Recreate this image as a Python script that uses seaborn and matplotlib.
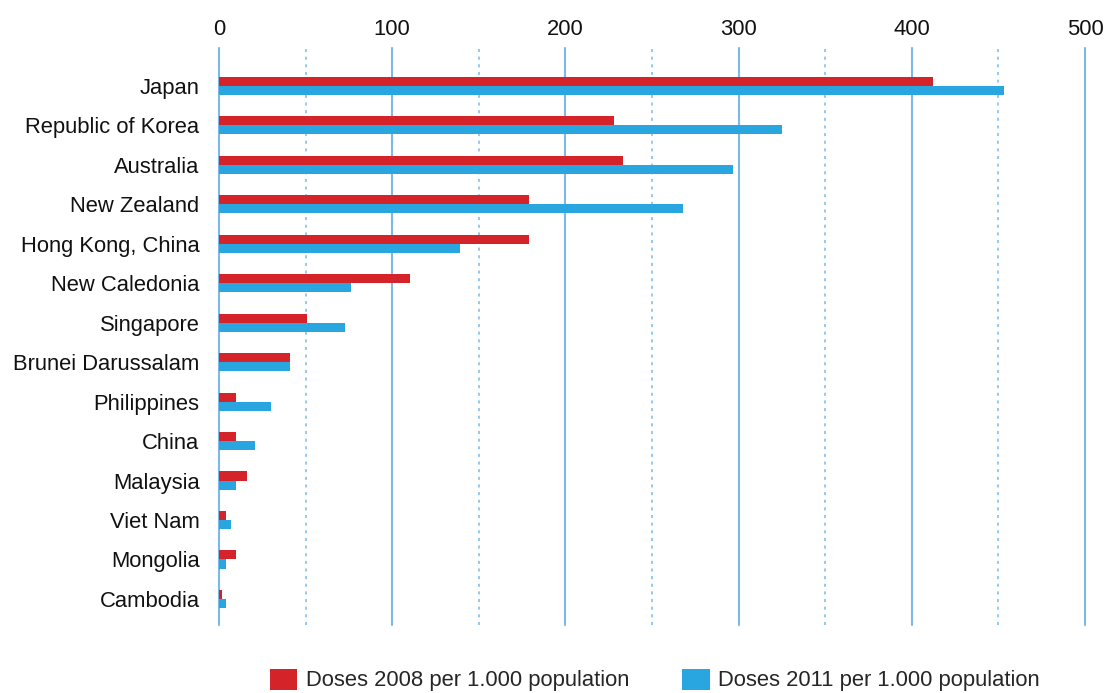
import matplotlib
matplotlib.use("Agg")
import matplotlib.pyplot as plt
from matplotlib.ticker import MultipleLocator
import seaborn as sns
import pandas as pd

countries = [
    "Japan", "Republic of Korea", "Australia", "New Zealand", "Hong Kong, China",
    "New Caledonia", "Singapore", "Brunei Darussalam", "Philippines", "China",
    "Malaysia", "Viet Nam", "Mongolia", "Cambodia",
]
doses_2008 = [412, 228, 233, 179, 179, 110, 51, 41, 10, 10, 16, 4, 10, 2]
doses_2011 = [453, 325, 297, 268, 139, 76, 73, 41, 30, 21, 10, 7, 4, 4]
series_names = ["Doses 2008 per 1.000 population", "Doses 2011 per 1.000 population"]
x_ticks = [0, 100, 200, 300, 400, 500]

df = pd.DataFrame({
    "country": countries * 2,
    "value": doses_2008 + doses_2011,
    "series": [series_names[0]] * len(countries) + [series_names[1]] * len(countries),
})

sns.set_theme(style="white")
plt.rcParams["font.family"] = ["Liberation Sans", "DejaVu Sans"]

RED = "#d4242a"
BLUE = "#29a6df"
GRID = "#7ab9e8"
FS = 15.8

fig = plt.figure(figsize=(11.05, 6.93), dpi=100)
ax = fig.add_axes([219 / 1105, 1 - 625 / 693, (1085 - 219) / 1105, (625 - 48) / 693])

sns.barplot(
    data=df, y="country", x="value", hue="series", order=countries,
    hue_order=series_names, palette=[RED, BLUE], orient="h",
    width=0.46, dodge=True, saturation=1, ax=ax, legend=True,
    linewidth=0, edgecolor="none",
)

ax.set_xlim(0, 500)
ax.set_ylim(13.66, -0.96)
ax.set_xticks(x_ticks)
ax.set_xticklabels([str(t) for t in x_ticks])
ax.xaxis.set_minor_locator(MultipleLocator(50))
ax.xaxis.tick_top()
ax.tick_params(axis="x", which="both", length=0, pad=6, labelsize=FS, colors="#111111")
ax.tick_params(axis="y", length=0, pad=14, labelsize=FS, colors="#111111")
ax.set_xlabel("")
ax.set_ylabel("")
for s in ax.spines.values():
    s.set_visible(False)

ax.set_axisbelow(True)
ax.grid(False)
ax.grid(which="major", axis="x", color=GRID, linewidth=1.5, linestyle="-")
ax.grid(which="minor", axis="x", color=GRID, linewidth=1.1, linestyle=(0, (2.0, 3.0)))
for gl in ax.get_xgridlines():
    gl.set_clip_on(False)

handles, labels = ax.get_legend_handles_labels()
ax.get_legend().remove()
fig.legend(
    handles, labels, loc="center", bbox_to_anchor=(655 / 1105, 1 - 680 / 693),
    ncol=2, frameon=False, fontsize=FS, handlelength=1.25, handleheight=1.1,
    handletextpad=0.4, columnspacing=2.4, borderaxespad=0, borderpad=0,
)

fig.savefig("out.png", dpi=100, facecolor="white")
